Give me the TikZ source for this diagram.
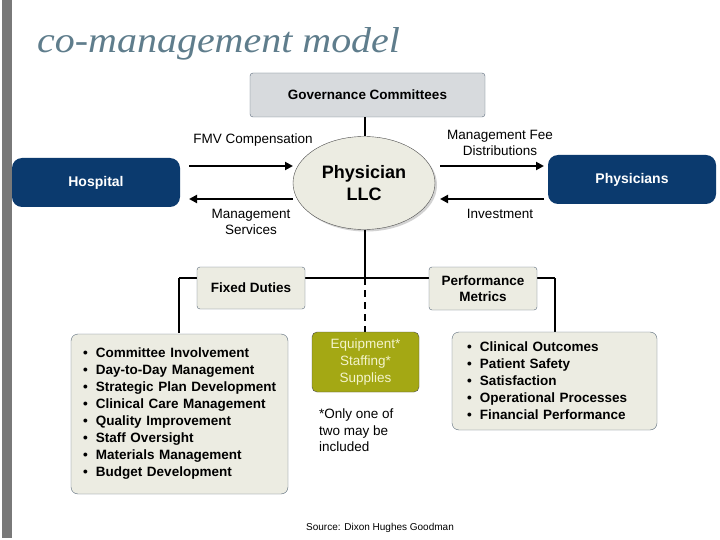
\documentclass[tikz,border=0pt]{standalone}
\usepackage{fontspec}
\setmainfont{Liberation Sans}
\newfontfamily\titlefont{Liberation Serif}
\usetikzlibrary{arrows.meta,shapes.geometric,shadows}
\definecolor{navy}{HTML}{0B3A6E}
\definecolor{govgray}{HTML}{D7DADD}
\definecolor{paper}{HTML}{ECECE2}
\definecolor{olive}{HTML}{A4A814}
\definecolor{cream}{HTML}{F4F4CC}
\definecolor{slate}{HTML}{5F7D8C}
\definecolor{edge}{HTML}{5B6B7B}
\newcommand{\itm}[1]{\mbox{\makebox[13pt][l]{\textbullet}#1}}
\begin{document}
\begin{tikzpicture}
    [x=1pt,y=-1pt,
    lbl/.style={font=\fontsize{13.5}{16}\selectfont,align=center},
    bluebox/.style={fill=navy,rounded corners=10pt,minimum width=168pt,minimum height=49pt,
        text=white,font=\fontsize{14}{17}\selectfont\bfseries},
    greybox/.style={draw=edge,fill=paper,rounded corners=3pt,minimum width=108pt,
        minimum height=42pt,align=center,font=\fontsize{13.5}{16}\selectfont\bfseries},
    listbox/.style={draw=edge,fill=paper,rounded corners=7pt,align=left,
        font=\fontsize{13.5}{17}\selectfont\bfseries},
    tree/.style={line width=2.6pt},
    flow/.style={line width=2.4pt,-{Triangle[length=8pt,width=8pt]}}]
    %frame
    \useasboundingbox (0,0) rectangle (720,540);
    \fill[white] (0,0) rectangle (720,540);
    \fill[gray!95!black] (1.5,0) rectangle (11.5,538);
    %title
    \node[anchor=base west,inner sep=0,text=slate,font=\fontsize{36}{40}\titlefont\itshape]
        (title) at (37,53) {\scalebox{1.11}[1]{co-management model}};
    %top boxes
    \node[draw=edge,fill=govgray,rounded corners=3pt,minimum width=235pt,minimum height=44pt,
        font=\fontsize{13.5}{16}\selectfont\bfseries] (gov) at (367.5,95) {Governance Committees};
    \node[ellipse,draw=black!70,fill=paper,minimum width=142pt,minimum height=93pt,inner sep=0,
        align=center,font=\fontsize{18}{22}\selectfont\bfseries,
        drop shadow={shadow xshift=2pt,shadow yshift=-2pt,fill=black!35}]
        (llc) at (364,183) {Physician\\LLC};
    \node[bluebox] (hosp) at (96,182.5) {Hospital};
    \node[bluebox] (phys) at (632,179.5) {Physicians};
    %money flows
    \coordinate (fmvL) at (189,166);
    \coordinate (fmvR) at (293,166);
    \coordinate (msL) at (189,199);
    \coordinate (msR) at (293,199);
    \coordinate (feeL) at (440,166);
    \coordinate (feeR) at (544,166);
    \coordinate (invL) at (440,199);
    \coordinate (invR) at (544,199);
    \draw[flow] (fmvL) -- (fmvR);
    \draw[flow] (msR) -- (msL);
    \draw[flow] (feeL) -- (feeR);
    \draw[flow] (invR) -- (invL);
    \node[lbl] (fmv) at (253,140) {FMV Compensation};
    \node[lbl] (fee) at (500,143) {Management Fee\\Distributions};
    \node[lbl] (ms) at (251,222) {Management\\Services};
    \node[lbl] (inv) at (500,214) {Investment};
    %tree
    \coordinate (hub) at (365,278);
    \coordinate (lfork) at (179,278);
    \coordinate (rfork) at (555,278);
    \draw[tree] (gov.south -| hub) -- (llc.north -| hub);
    \draw[tree] (llc.south -| hub) -- (hub);
    \draw[tree] (lfork) -- (rfork);
    \draw[tree] (lfork) -- (179,333);
    \draw[tree] (rfork) -- (555,332);
    \draw[line width=2.2pt,dash pattern=on 7pt off 5pt] (hub) -- (365,332);
    %lower boxes
    \node[greybox] (duties) at (251,288) {Fixed Duties};
    \node[greybox,minimum height=43pt] (metrics) at (483,288.5) {Performance\\Metrics};
    \node[listbox,minimum width=217pt,minimum height=160pt,text width=193pt,inner xsep=12pt]
        (dutylist) at (179.5,414) {\itm{Committee Involvement}\\\itm{Day-to-Day Management}\\
        \itm{Strategic Plan Development}\\\itm{Clinical Care Management}\\
        \itm{Quality Improvement}\\\itm{Staff Oversight}\\\itm{Materials Management}\\
        \itm{Budget Development}};
    \node[listbox,minimum width=205pt,minimum height=98pt,text width=175pt,inner xsep=15pt]
        (metriclist) at (554.5,381) {\itm{Clinical Outcomes}\\\itm{Patient Safety}\\
        \itm{Satisfaction}\\\itm{Operational Processes}\\\itm{Financial Performance}};
    \node[draw=black!70,fill=olive,rounded corners=5pt,minimum width=107pt,minimum height=60pt,
        text=cream,align=center,font=\fontsize{13.5}{17}\selectfont]
        (equip) at (365.5,362) {Equipment*\\Staffing*\\Supplies};
    \node[anchor=north west,align=left,inner sep=0,font=\fontsize{13.5}{16.5}\selectfont]
        (note) at (319,409) {*Only one of\\two may be\\included};
    \node[font=\fontsize{10}{12}\selectfont] (source) at (380,528) {Source: Dixon Hughes Goodman};
\end{tikzpicture}
\end{document}
